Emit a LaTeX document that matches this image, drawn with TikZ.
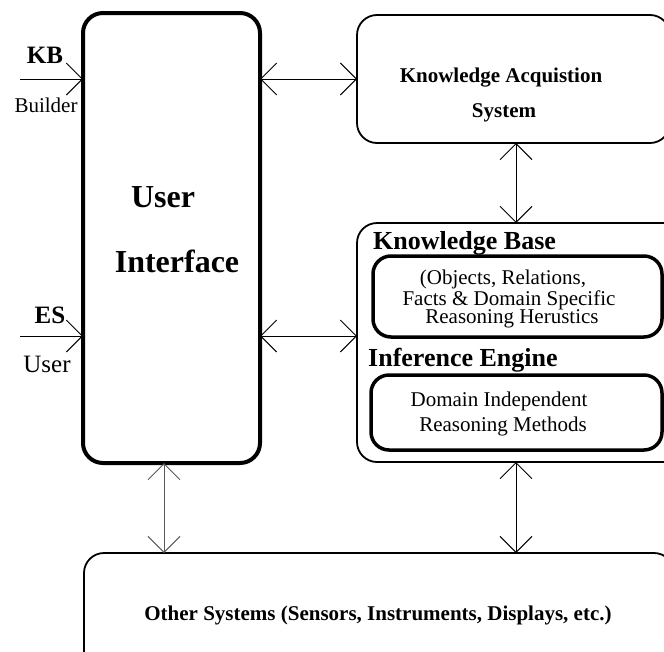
\documentclass[tikz,border=0pt]{standalone}
\usepackage{fontspec}
\setmainfont{Liberation Serif}
\usetikzlibrary{arrows.meta}
\begin{document}
\begin{tikzpicture}[x=1pt,y=-1pt,
  box/.style={draw, rectangle, anchor=north west, inner sep=0pt, outer sep=0pt, rounded corners=20pt},
  heavy/.style={box, line width=4pt},
  medium/.style={box, line width=3.5pt, rounded corners=18pt},
  light/.style={box, line width=1.8pt},
  lbl/.style={inner sep=0pt, anchor=base},
  lbll/.style={inner sep=0pt, anchor=base west},
  fr/.style={font=\fontsize{21}{25}\selectfont},
  fb/.style={font=\fontsize{21}{25}\selectfont\bfseries},
  conn/.style={line width=0.9pt, {Straight Barb[length=16pt,width=32pt]}-{Straight Barb[length=16pt,width=32pt]}},
  inarrow/.style={line width=0.9pt, -{Straight Barb[length=16pt,width=32pt]}}
]
\useasboundingbox (0,0) rectangle (664,651);
\clip (0,0) rectangle (664,651);

% boxes
\node[heavy, minimum width=177pt, minimum height=450pt] (ui) at (83,13) {};
\node[light, minimum width=313pt, minimum height=128pt] (ka) at (357,15) {};
\node[light, minimum width=330pt, minimum height=239pt] (kb) at (357,223) {};
\node[medium, minimum width=289pt, minimum height=81pt] (facts) at (373,256) {};
\node[medium, minimum width=291pt, minimum height=75pt] (methods) at (371,375) {};
\node[light, minimum width=590pt, minimum height=130pt] (other) at (84,553) {};

% texts
\node[lbl, font=\fontsize{32}{36}\selectfont\bfseries] (tuser) at (163,207) {User};
\node[lbl, font=\fontsize{32}{36}\selectfont\bfseries] (tinterface) at (177,272) {Interface};
\node[lbl, fb] (tka1) at (501,82) {Knowledge Acquistion};
\node[lbl, fb] (tka2) at (504,117) {System};
\node[lbll, font=\fontsize{26}{30}\selectfont\bfseries] (tkb) at (373,249) {Knowledge Base};
\node[lbll, font=\fontsize{26}{30}\selectfont\bfseries] (tie) at (368,366) {Inference Engine};
\node[lbl, fr] (tf1) at (503,284) {(Objects, Relations,};
\node[lbl, fr] (tf2) at (509,305) {Facts \& Domain Specific};
\node[lbl, fr] (tf3) at (512,323) {Reasoning Herustics};
\node[lbl, fr] (tm1) at (499,406) {Domain Independent};
\node[lbl, fr] (tm2) at (503,431) {Reasoning Methods};
\node[lbl, fb] (tother) at (378,620) {Other Systems (Sensors, Instruments, Displays, etc.)};
\node[lbl, font=\fontsize{25}{29}\selectfont\bfseries] (tkbl) at (45,63) {KB};
\node[lbl, fr] (tbuilder) at (46,112) {Builder};
\node[lbl, font=\fontsize{25}{29}\selectfont\bfseries] (tesl) at (50,323) {ES};
\node[lbl, font=\fontsize{25}{29}\selectfont] (tuserl) at (47,372) {User};

% helper coordinates
\coordinate (kbin) at (20,79);
\coordinate (esin) at (20,336);
\coordinate (vx) at (516,0);
\coordinate (lx) at (164,0);

% connectors
\draw[inarrow] (kbin) -- (kbin -| ui.west);
\draw[inarrow] (esin) -- (esin -| ui.west);
\draw[conn] (ka.west -| ui.east) -- (ka.west);
\draw[conn] (esin -| ui.east) -- (esin -| kb.west);
\draw[conn] (vx |- ka.south) -- (vx |- kb.north);
\draw[conn, black!65] (lx |- ui.south) -- (lx |- other.north);
\draw[conn] (vx |- kb.south) -- (vx |- other.north);
\end{tikzpicture}
\end{document}
